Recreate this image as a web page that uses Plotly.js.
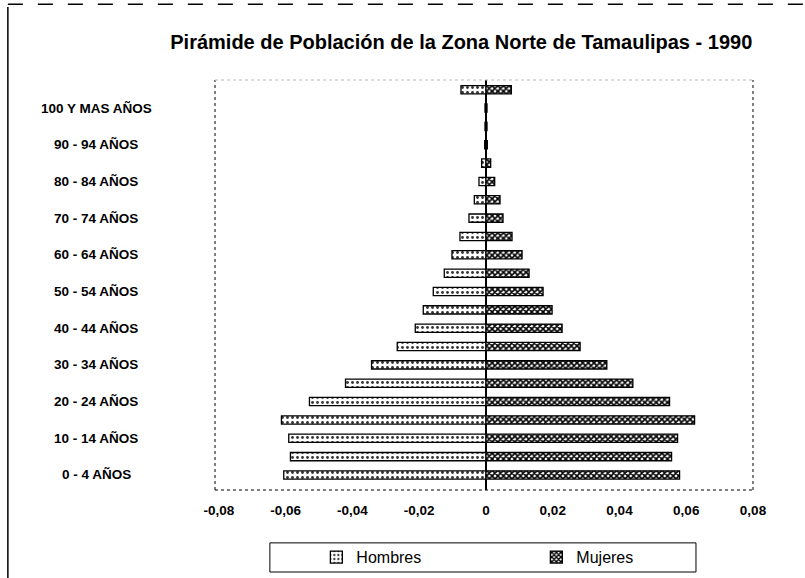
<!DOCTYPE html>
<html>
<head>
<meta charset="utf-8">
<script src="https://cdn.plot.ly/plotly-3.0.1.min.js"></script>
<style>
  html, body { margin: 0; padding: 0; background: #fff; }
  #chart { width: 805px; height: 578px; }
</style>
</head>
<body>
<div id="chart"></div>
<script>
const AGE_GROUPS = [
    '0 - 4 AÑOS', '5 - 9 AÑOS', '10 - 14 AÑOS', '15 - 19 AÑOS', '20 - 24 AÑOS',
    '25 - 29 AÑOS', '30 - 34 AÑOS', '35 - 39 AÑOS', '40 - 44 AÑOS', '45 - 49 AÑOS',
    '50 - 54 AÑOS', '55 - 59 AÑOS', '60 - 64 AÑOS', '65 - 69 AÑOS', '70 - 74 AÑOS',
    '75 - 79 AÑOS', '80 - 84 AÑOS', '85 - 89 AÑOS', '90 - 94 AÑOS', '95 - 99 AÑOS',
    '100 Y MAS AÑOS', 'NO ESPECIFICADO',
];

// shown on the axis, every other group
const AGE_LABELS = [
    '0 - 4 AÑOS', '10 - 14 AÑOS', '20 - 24 AÑOS', '30 - 34 AÑOS', '40 - 44 AÑOS',
    '50 - 54 AÑOS', '60 - 64 AÑOS', '70 - 74 AÑOS', '80 - 84 AÑOS', '90 - 94 AÑOS',
    '100 Y MAS AÑOS',
];

// share of population, men drawn to the left
const HOMBRES = [
    -0.0606, -0.0586, -0.0591, -0.0613, -0.0529,
    -0.0421, -0.0343, -0.0266, -0.0212, -0.0188,
    -0.0158, -0.0125, -0.0102, -0.0078, -0.0051,
    -0.0035, -0.0021, -0.0013, -0.0004, -0.0003,
    -0.0003, -0.0075,
];

const MUJERES = [
    0.0580, 0.0556, 0.0574, 0.0625, 0.0550,
    0.0440, 0.0362, 0.0282, 0.0228, 0.0198,
    0.0171, 0.0129, 0.0108, 0.0078, 0.0051,
    0.0042, 0.0026, 0.0014, 0.0004, 0.0003,
    0.0003, 0.0076,
];

const X_TICKS = [-0.08, -0.06, -0.04, -0.02, 0, 0.02, 0.04, 0.06, 0.08];
const X_TICK_TEXT = ['-0,08', '-0,06', '-0,04', '-0,02', '0', '0,02', '0,04', '0,06', '0,08'];

const FONT = 'Liberation Sans, Arial, sans-serif';

const traces = [{
    type: 'bar',
    orientation: 'h',
    name: 'Hombres',
    y: AGE_GROUPS,
    x: HOMBRES,
    marker: {
        color: '#ffffff',
        line: { color: '#000', width: 1.3 },
        pattern: { shape: '.', fgcolor: '#333', bgcolor: '#fff', size: 5, solidity: 0.25 },
    },
    hovertemplate: '%{y}: %{x}<extra>Hombres</extra>',
}, {
    type: 'bar',
    orientation: 'h',
    name: 'Mujeres',
    y: AGE_GROUPS,
    x: MUJERES,
    marker: {
        color: '#444',
        line: { color: '#000', width: 1.3 },
        pattern: { shape: 'x', fgcolor: '#000', bgcolor: '#fff', size: 4, solidity: 0.65 },
    },
    hovertemplate: '%{y}: %{x}<extra>Mujeres</extra>',
}];

const yLabels = AGE_LABELS.map(lab => ({
    xref: 'paper', yref: 'y',
    x: -0.221, y: lab,
    xanchor: 'center', yanchor: 'middle',
    text: lab, showarrow: false,
    font: { family: FONT, size: 13.5, color: '#000', weight: 'bold' },
}));

const dotted = { color: '#000', width: 1, dash: 'dot' };

const layout = {
    width: 805,
    height: 578,
    paper_bgcolor: '#fff',
    plot_bgcolor: '#fff',
    font: { family: FONT, color: '#000' },
    margin: { t: 80, r: 52, b: 88, l: 215 },
    title: {
        text: '<b>Pirámide de Población de la Zona Norte de Tamaulipas - 1990</b>',
        font: { family: FONT, size: 20, color: '#000' },
        x: 0.573, xanchor: 'center',
        y: 0.927, yanchor: 'middle',
    },
    barmode: 'overlay',
    bargap: 0.55,
    xaxis: {
        range: [-0.0812, 0.08],
        tickvals: X_TICKS,
        ticktext: X_TICK_TEXT,
        ticks: 'outside', ticklen: 8, tickcolor: 'rgba(0,0,0,0)',
        tickfont: { family: FONT, size: 13.5, color: '#000', weight: 'bold' },
        showgrid: false,
        zeroline: true, zerolinecolor: '#000', zerolinewidth: 1.5,
        showline: false,
        automargin: false,
        fixedrange: true,
    },
    yaxis: {
        type: 'category',
        range: [-0.82, 21.53],
        showticklabels: false,
        showgrid: false,
        zeroline: false,
        showline: false,
        automargin: false,
        fixedrange: true,
    },
    showlegend: true,
    legend: {
        orientation: 'h',
        xref: 'container', yref: 'container',
        x: 0.393, xanchor: 'left',
        y: 0.036, yanchor: 'middle',
        entrywidth: 175, entrywidthmode: 'pixels',
        font: { family: FONT, size: 16, color: '#000' },
        bgcolor: 'rgba(0,0,0,0)',
        borderwidth: 0,
        traceorder: 'normal',
    },
    annotations: yLabels,
    shapes: [
        // plot frame: dotted left, right, bottom, faint top
        { type: 'line', xref: 'paper', yref: 'paper', x0: 0, x1: 0, y0: 0, y1: 1, line: dotted },
        { type: 'line', xref: 'paper', yref: 'paper', x0: 1, x1: 1, y0: 0, y1: 1, line: dotted },
        { type: 'line', xref: 'paper', yref: 'paper', x0: 0, x1: 1, y0: 0, y1: 0, line: dotted },
        { type: 'line', xref: 'paper', yref: 'paper', x0: 0, x1: 1, y0: 1, y1: 1,
          line: { color: '#bbb', width: 1, dash: 'dot' } },
        // legend box
        { type: 'rect', xref: 'paper', yref: 'paper', x0: 0.102, x1: 0.894, y0: -0.2, y1: -0.129,
          line: { color: '#000', width: 1 } },
        // outer chart border
        { type: 'line', xref: 'paper', yref: 'paper', x0: -0.385, x1: -0.385, y0: -0.3, y1: 1.178,
          line: { color: '#000', width: 1.5 } },
        { type: 'line', xref: 'paper', yref: 'paper', x0: -0.385, x1: 1.2, y0: 1.185, y1: 1.185,
          line: { color: '#000', width: 1.5, dash: 'longdash' } },
    ],
};

Plotly.newPlot('chart', traces, layout, { responsive: false, displayModeBar: false, staticPlot: true });
</script>
</body>
</html>
